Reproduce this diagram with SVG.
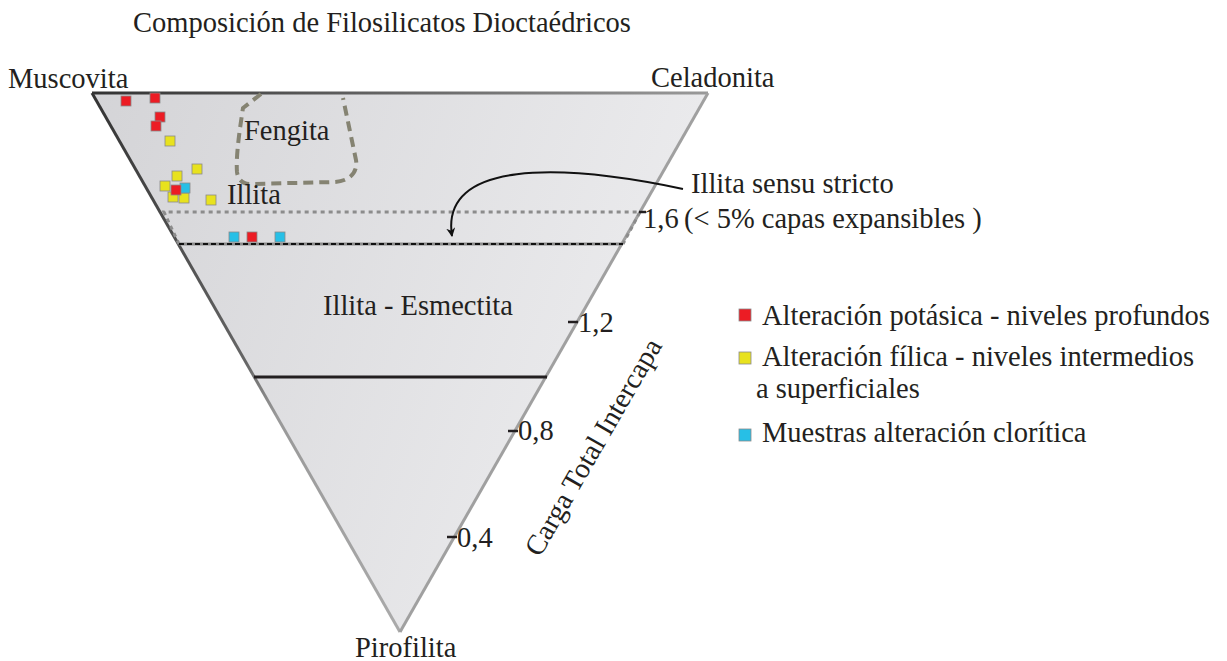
<svg xmlns="http://www.w3.org/2000/svg" width="1227" height="661" viewBox="0 0 1227 661">
<defs>
<style>
.pt{stroke:#8a8a8a;stroke-width:0.8}
.r{fill:#ec1c24}.y{fill:#e8e21e}.b{fill:#27bfe6}
.tick{stroke:#231f20;stroke-width:2.5}
</style>
<linearGradient id="fillg" x1="0" y1="0" x2="1" y2="0.3">
<stop offset="0" stop-color="#d4d4d7"/><stop offset="1" stop-color="#ececee"/>
</linearGradient>
<linearGradient id="topg" gradientUnits="userSpaceOnUse" x1="92" y1="93" x2="708" y2="93">
<stop offset="0" stop-color="#333"/><stop offset="0.5" stop-color="#666"/><stop offset="1" stop-color="#999"/>
</linearGradient>
<linearGradient id="leftg" gradientUnits="userSpaceOnUse" x1="92" y1="93" x2="400" y2="632">
<stop offset="0" stop-color="#333"/><stop offset="0.5" stop-color="#666"/><stop offset="0.6" stop-color="#999"/><stop offset="1" stop-color="#aaa"/>
</linearGradient>
<marker id="ah" viewBox="0 0 10 10" refX="9" refY="5" markerWidth="9" markerHeight="9" markerUnits="userSpaceOnUse" orient="auto">
<path d="M0,0 L10,5 L0,10 L3,5 Z" fill="#111"/>
</marker>
</defs>
<text x="133" y="32" style="font-family:'Liberation Serif',serif;font-size:28.5px;fill:#231f20">Composición de Filosilicatos Dioctaédricos</text>
<g id="triangle">
<polygon points="92,93 708,93 400,632" fill="url(#fillg)"/>
<line x1="92" y1="93" x2="708" y2="93" stroke="url(#topg)" stroke-width="3"/>
<line x1="92" y1="93" x2="400" y2="632" stroke="url(#leftg)" stroke-width="3"/>
<line x1="708" y1="93" x2="400" y2="632" stroke="#a0a0a0" stroke-width="3"/>
</g>
<g id="fengita">
<path d="M261,94 L243,108 C238,140 236,160 237,172 C238,180 243,184 250,184 L335,182 C350,181 358,172 356,160 L343,98" fill="none" stroke="#858372" stroke-width="4" stroke-dasharray="10 6"/>
<text x="244" y="140" style="font-family:'Liberation Serif',serif;font-size:28.5px;fill:#231f20">Fengita</text>
</g>
<g id="illita">
<polyline points="179,244 164,212 640,212 623,244" fill="none" stroke="#8c8c8c" stroke-width="3" stroke-dasharray="4 4"/>
<line x1="179" y1="244" x2="623" y2="244" stroke="#8c8c8c" stroke-width="3"/>
<line x1="179" y1="244" x2="623" y2="244" stroke="#111" stroke-width="2" stroke-dasharray="5 3"/>
<text x="227" y="204" style="font-family:'Liberation Serif',serif;font-size:28.5px;fill:#231f20">Illita</text>
</g>
<g id="illita-esmectita">
<line x1="254" y1="377" x2="547" y2="377" stroke="#231f20" stroke-width="3"/>
<text x="323" y="315" style="font-family:'Liberation Serif',serif;font-size:28.5px;fill:#231f20">Illita - Esmectita</text>
</g>
<g id="vertices">
<text x="8" y="88" style="font-family:'Liberation Serif',serif;font-size:28.5px;fill:#231f20">Muscovita</text>
<text x="651" y="87" style="font-family:'Liberation Serif',serif;font-size:28.5px;fill:#231f20">Celadonita</text>
<text x="355" y="657" style="font-family:'Liberation Serif',serif;font-size:28.5px;fill:#231f20">Pirofilita</text>
</g>
<g id="axis">
<line class="tick" x1="639" y1="212" x2="646" y2="212"/>
<text x="643" y="228" style="font-family:'Liberation Serif',serif;font-size:28.5px;fill:#231f20">1,6</text>
<line class="tick" x1="568" y1="322" x2="578" y2="322"/>
<text x="578" y="332" style="font-family:'Liberation Serif',serif;font-size:28.5px;fill:#231f20">1,2</text>
<line class="tick" x1="508" y1="431" x2="518" y2="431"/>
<text x="518" y="440" style="font-family:'Liberation Serif',serif;font-size:28.5px;fill:#231f20">0,8</text>
<line class="tick" x1="447" y1="537" x2="457" y2="537"/>
<text x="457" y="547" style="font-family:'Liberation Serif',serif;font-size:28.5px;fill:#231f20">0,4</text>
<text transform="translate(540,558) rotate(-60)" style="font-family:'Liberation Serif',serif;font-size:28.5px;fill:#231f20">Carga Total Intercapa</text>
</g>
<g id="points">
<rect class="pt y" x="165" y="136" width="10" height="10"/>
<rect class="pt y" x="192" y="164" width="10" height="10"/>
<rect class="pt y" x="172" y="171" width="10" height="10"/>
<rect class="pt y" x="160" y="181" width="10" height="10"/>
<rect class="pt y" x="168" y="192" width="10" height="10"/>
<rect class="pt y" x="179" y="193" width="10" height="10"/>
<rect class="pt y" x="206" y="195" width="10" height="10"/>
<rect class="pt b" x="180" y="183" width="10" height="10"/>
<rect class="pt b" x="229" y="232" width="10" height="10"/>
<rect class="pt b" x="275" y="232" width="10" height="10"/>
<rect class="pt r" x="121" y="96" width="10" height="10"/>
<rect class="pt r" x="150" y="93" width="10" height="10"/>
<rect class="pt r" x="155" y="112" width="10" height="10"/>
<rect class="pt r" x="151" y="121" width="10" height="10"/>
<rect class="pt r" x="171" y="185" width="10" height="10"/>
<rect class="pt r" x="247" y="232" width="10" height="10"/>
</g>
<g id="annotation">
<text x="691" y="193" style="font-family:'Liberation Serif',serif;font-size:28.5px;fill:#231f20">Illita sensu stricto</text>
<text x="684" y="228" style="font-family:'Liberation Serif',serif;font-size:28.5px;fill:#231f20">(&lt; 5% capas expansibles )</text>
</g>
<g id="connectors">
<path d="M683,189 C560,163 440,160 452,236" fill="none" stroke="#111" stroke-width="2" marker-end="url(#ah)"/>
</g>
<g id="legend">
<rect class="pt r" x="739" y="309" width="12" height="12"/>
<text x="762" y="325" style="font-family:'Liberation Serif',serif;font-size:28.5px;fill:#231f20">Alteración potásica - niveles profundos</text>
<rect class="pt y" x="739" y="352" width="12" height="12"/>
<text x="762" y="366" style="font-family:'Liberation Serif',serif;font-size:28.5px;fill:#231f20">Alteración fílica - niveles intermedios</text>
<text x="756" y="398" style="font-family:'Liberation Serif',serif;font-size:28.5px;fill:#231f20">a superficiales</text>
<rect class="pt b" x="739" y="429" width="12" height="12"/>
<text x="762" y="442" style="font-family:'Liberation Serif',serif;font-size:28.5px;fill:#231f20">Muestras alteración clorítica</text>
</g>
</svg>
